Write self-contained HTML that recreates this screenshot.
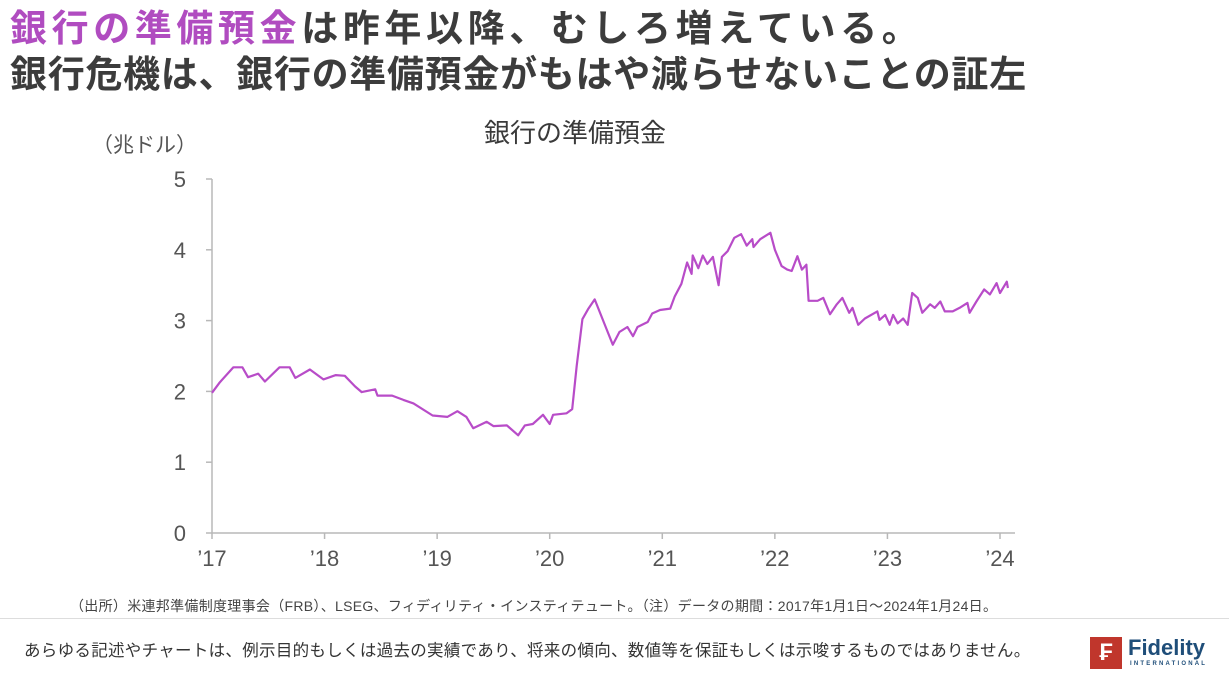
<!DOCTYPE html>
<html><head><meta charset="utf-8">
<style>
html,body{margin:0;padding:0;background:#fff;width:1229px;height:681px;overflow:hidden;font-family:"Liberation Sans","Noto Sans CJK JP",sans-serif;}
.t{position:absolute;white-space:nowrap;color:#3a3a3a;}
</style></head>
<body>
<div style="position:relative;width:1229px;height:681px;">
<div class="t" style="left:10px;top:-2px;font-size:37px;font-weight:bold;color:#3c3c3c;letter-spacing:4.6px;"><span style="color:#b04cc0">銀行の準備預金</span>は昨年以降、むしろ増えている。</div>
<div class="t" style="left:10px;top:44px;font-size:37px;font-weight:bold;color:#3c3c3c;letter-spacing:0.7px;">銀行危機は、銀行の準備預金がもはや減らせないことの証左</div>
<svg id="chart" width="1229" height="681" style="position:absolute;left:0;top:0"></svg>
<div style="position:absolute;left:0;top:618px;width:1229px;height:1px;background:#ddd"></div>
<div class="t" style="left:70px;top:596px;font-size:14px;letter-spacing:0.3px;color:#444">（出所）米連邦準備制度理事会（FRB）、LSEG、フィディリティ・インスティテュート。（注）データの期間：2017年1月1日～2024年1月24日。</div>
<div class="t" style="left:24px;top:637px;font-size:16.5px;letter-spacing:0.3px;color:#333">あらゆる記述やチャートは、例示目的もしくは過去の実績であり、将来の傾向、数値等を保証もしくは示唆するものではありません。</div>
<div style="position:absolute;left:1090px;top:636px;width:120px;height:34px;">
  <div style="position:absolute;left:0;top:1px;width:32px;height:32px;background:#c0362c;color:#fff;font-size:24px;font-weight:bold;text-align:center;line-height:32px;">₣</div>
  <div style="position:absolute;left:38px;top:-1px;font-size:22px;font-weight:bold;color:#1f4e79;">Fidelity</div>
  <div style="position:absolute;left:40px;top:25px;font-size:6px;letter-spacing:2.2px;color:#1f4e79;font-weight:bold;">INTERNATIONAL</div>
</div>
</div>
<script>
const dates=[17.00,17.07,17.19,17.27,17.32,17.41,17.47,17.60,17.69,17.74,17.87,17.99,18.10,18.18,18.27,18.33,18.45,18.47,18.60,18.70,18.79,18.96,19.09,19.18,19.26,19.32,19.44,19.50,19.62,19.72,19.78,19.85,19.94,20.00,20.03,20.15,20.20,20.24,20.29,20.34,20.40,20.51,20.56,20.62,20.69,20.74,20.78,20.87,20.91,20.98,21.07,21.11,21.17,21.22,21.26,21.27,21.32,21.36,21.40,21.45,21.50,21.53,21.58,21.64,21.70,21.75,21.80,21.81,21.87,21.96,22.00,22.06,22.11,22.15,22.20,22.24,22.28,22.30,22.38,22.43,22.49,22.55,22.60,22.66,22.69,22.74,22.80,22.91,22.93,22.98,23.02,23.05,23.09,23.14,23.18,23.22,23.27,23.31,23.38,23.42,23.47,23.51,23.58,23.64,23.71,23.73,23.79,23.86,23.91,23.97,24.00,24.06,24.07];
const reserves=[1.98,2.13,2.34,2.34,2.20,2.25,2.14,2.34,2.34,2.19,2.31,2.17,2.23,2.22,2.07,1.99,2.03,1.94,1.94,1.88,1.83,1.66,1.64,1.72,1.64,1.48,1.57,1.51,1.52,1.38,1.52,1.54,1.67,1.54,1.67,1.69,1.75,2.36,3.02,3.16,3.30,2.86,2.66,2.84,2.91,2.78,2.91,2.98,3.10,3.15,3.17,3.34,3.52,3.82,3.66,3.92,3.74,3.92,3.80,3.90,3.50,3.90,3.98,4.17,4.22,4.06,4.15,4.04,4.15,4.24,4.00,3.77,3.72,3.70,3.91,3.72,3.79,3.28,3.28,3.32,3.09,3.23,3.32,3.11,3.18,2.94,3.03,3.13,3.01,3.08,2.94,3.08,2.96,3.03,2.94,3.39,3.32,3.11,3.23,3.18,3.27,3.13,3.13,3.18,3.25,3.11,3.27,3.44,3.37,3.53,3.39,3.55,3.46];
const yTicks=[0,1,2,3,4,5];
const xTicks=[17,18,19,20,21,22,23,24];
const xLabels=["’17","’18","’19","’20","’21","’22","’23","’24"];
const NS="http://www.w3.org/2000/svg";
const svg=document.getElementById('chart');
const X0=212,X1=1000,Y0=533,Y5=179;
function sx(t){return X0+(t-17)*(X1-X0)/7;}
function sy(v){return Y0-v*(Y0-Y5)/5;}
function mk(tag,attrs,txt){const e=document.createElementNS(NS,tag);for(const k in attrs)e.setAttribute(k,attrs[k]);if(txt!==undefined)e.textContent=txt;svg.appendChild(e);return e;}
let e;
e=mk('text',{x:575,y:142,'text-anchor':'middle','font-size':26,fill:'#3a3a3a','font-family':'"Liberation Sans","Noto Sans CJK JP",sans-serif'},'銀行の準備預金');


e=mk('text',{x:92,y:152,'font-size':21,fill:'#555','font-family':'"Liberation Sans","Noto Sans CJK JP",sans-serif'},'（兆ドル）');


e=mk('line',{x1:X0,y1:Y5,x2:X0,y2:Y0,stroke:'#b8b8b8','stroke-width':1.5});


e=mk('line',{x1:X0,y1:Y0,x2:1015,y2:Y0,stroke:'#b8b8b8','stroke-width':1.5});


yTicks.forEach(v=>{
  e=mk('line',{x1:X0-6,y1:sy(v),x2:X0,y2:sy(v),stroke:'#b8b8b8','stroke-width':1.5});
  
  
  e=mk('text',{x:186,y:sy(v)+8,'text-anchor':'end','font-size':22,fill:'#555','font-family':'"Liberation Sans",sans-serif'},String(v));
  
  
});
xTicks.forEach((t,i)=>{
  e=mk('line',{x1:sx(t),y1:Y0,x2:sx(t),y2:Y0+6,stroke:'#b8b8b8','stroke-width':1.5});
  
  
  e=mk('text',{x:sx(t),y:566,'text-anchor':'middle','font-size':22,fill:'#555','font-family':'"Liberation Sans",sans-serif'},xLabels[i]);
  
  
});
const d=dates.map((t,i)=>(i?'L':'M')+sx(t).toFixed(1)+' '+sy(reserves[i]).toFixed(1)).join(' ');
e=mk('path',{d:d,fill:'none',stroke:'#b84cc8','stroke-width':2.2,'stroke-linejoin':'round'});


</script>
</body></html>
